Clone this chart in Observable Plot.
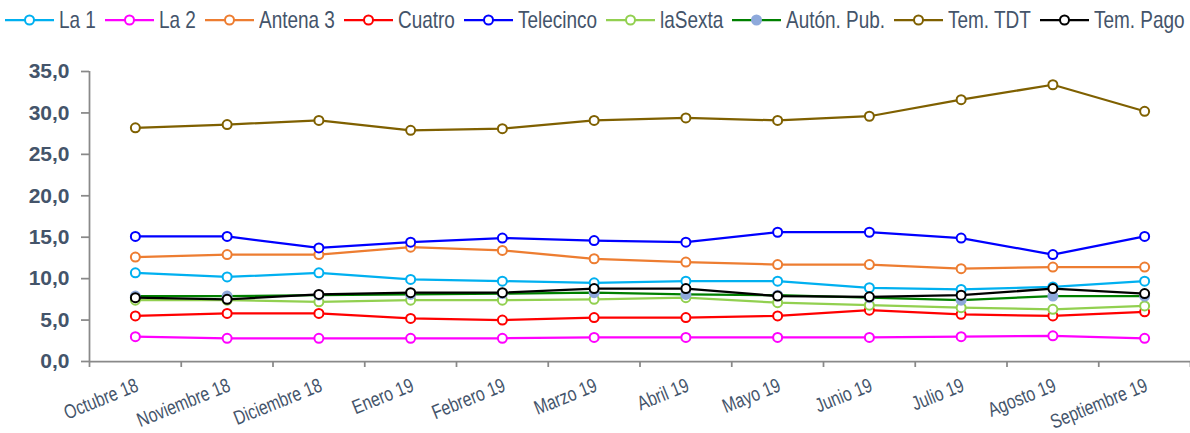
<!DOCTYPE html>
<html><head><meta charset="utf-8">
<script src="https://cdn.jsdelivr.net/npm/d3@7"></script>
<script src="https://cdn.jsdelivr.net/npm/@observablehq/plot@0.6"></script>
<style>
body{margin:0;background:#fff;width:1190px;height:433px;overflow:hidden;font-family:"Liberation Sans",sans-serif;}
#legend{height:40px;display:flex;align-items:center;justify-content:center;gap:9px;color:#44546A;font-size:24px;white-space:nowrap;}
.item{display:flex;align-items:center;gap:5px;white-space:nowrap;}
.item span{display:inline-block;transform:scaleX(0.79);transform-origin:left center;}
#chart svg{display:block;}
</style></head><body>
<div id="legend"></div><div id="chart"></div>
<script>
const months = ["Octubre 18","Noviembre 18","Diciembre 18","Enero 19","Febrero 19","Marzo 19","Abril 19","Mayo 19","Junio 19","Julio 19","Agosto 19","Septiembre 19"];
const seriesNames = ["La 1","La 2","Antena 3","Cuatro","Telecinco","laSexta","Autón. Pub.","Tem. TDT","Tem. Pago"];
const lineColors = ["#00B0F0","#FF00FF","#ED7D31","#FF0000","#0000FF","#92D050","#008000","#7F6000","#000000"];
const markerFills = ["#ffffff","#ffffff","#ffffff","#ffffff","#ffffff","#ffffff","#8EA9DB","#ffffff","#ffffff"];
const markerStrokes = ["#00B0F0","#FF00FF","#ED7D31","#FF0000","#0000FF","#92D050","#8EA9DB","#7F6000","#000000"];
const la1 = [10.7,10.2,10.7,9.9,9.7,9.5,9.7,9.7,8.9,8.7,9.0,9.7];
const la2 = [3.0,2.8,2.8,2.8,2.8,2.9,2.9,2.9,2.9,3.0,3.1,2.8];
const antena3 = [12.6,12.9,12.9,13.8,13.4,12.4,12.0,11.7,11.7,11.2,11.4,11.4];
const cuatro = [5.5,5.8,5.8,5.2,5.0,5.3,5.3,5.5,6.2,5.7,5.5,6.0];
const telecinco = [15.1,15.1,13.7,14.4,14.9,14.6,14.4,15.6,15.6,14.9,12.9,15.1];
const laSexta = [7.4,7.4,7.2,7.4,7.4,7.5,7.7,7.1,6.8,6.5,6.3,6.7];
const autonPub = [7.9,7.9,8.0,8.1,8.2,8.3,8.1,8.0,7.7,7.4,7.9,7.9];
const temTDT = [28.2,28.6,29.1,27.9,28.1,29.1,29.4,29.1,29.6,31.6,33.4,30.2];
const temPago = [7.7,7.5,8.1,8.3,8.3,8.8,8.8,7.9,7.8,8.0,8.8,8.2];
const yTicks = [0,5,10,15,20,25,30,35];
const seriesValues = [la1,la2,antena3,cuatro,telecinco,laSexta,autonPub,temTDT,temPago];

const textColor = "#44546A";
const axisColor = "#898989";
const squeeze = 0.79;

// Legend
const legend = document.getElementById("legend");
seriesNames.forEach((name, i) => {
  const item = document.createElement("div");
  item.className = "item";
  item.innerHTML = `<svg width="49" height="20"><line x1="0" x2="49" y1="10" y2="10" stroke="${lineColors[i]}" stroke-width="2.25"/><circle cx="24.5" cy="10" r="4.5" fill="${markerFills[i]}" stroke="${markerStrokes[i]}" stroke-width="2"/></svg><span>${name}</span>`;
  legend.appendChild(item);
});
legend.querySelectorAll(".item span").forEach(sp => {
  const w = sp.getBoundingClientRect().width / squeeze;
  sp.style.marginRight = (-(1 - squeeze) * w) + "px";
});

const rows = [];
seriesValues.forEach((vals, s) => vals.forEach((v, i) => rows.push({series: seriesNames[s], s, i, month: months[i], value: v})));

const marks = [];
seriesNames.forEach((name, s) => {
  const data = rows.filter(d => d.s === s);
  marks.push(Plot.line(data, {x: "i", y: "value", stroke: lineColors[s], strokeWidth: 2.25}));
  marks.push(Plot.dot(data, {x: "i", y: "value", r: 4.5, fill: markerFills[s], stroke: markerStrokes[s], strokeWidth: 2}));
});

const boundaries = d3.range(-0.5, months.length, 1);

const chart = Plot.plot({
  width: 1190,
  height: 393,
  marginLeft: 89,
  marginRight: 0,
  marginTop: 31,
  marginBottom: 72,
  style: {fontFamily: '"Liberation Sans",sans-serif', color: textColor, background: "#fff"},
  x: {type: "linear", domain: [-0.5, months.length - 0.5], axis: null},
  y: {domain: [0, 35], axis: null},
  marks: [
    Plot.axisY({ticks: yTicks, label: null, tickSize: 8, tickPadding: 12, stroke: axisColor, strokeWidth: 1.75, tickFormat: d => d.toFixed(1).replace(".", ","), fontSize: 21, fontWeight: "bold", fill: textColor}),
    Plot.ruleX([-0.5], {y1: 0, y2: 35, stroke: axisColor, strokeWidth: 1.75}),
    Plot.ruleY([0], {stroke: axisColor, strokeWidth: 1.75}),
    Plot.axisX({ticks: boundaries, label: null, tickSize: 6, tickFormat: () => "", stroke: axisColor, strokeWidth: 1.75}),
    Plot.text(months, {x: (d, i) => i, y: 0, text: d => d, rotate: -22, textAnchor: "end", dy: 23, dx: 2, fontSize: 20, fill: textColor}),
    ...marks
  ]
});
// condense the month labels like the reference's narrow font
chart.querySelectorAll("g[aria-label='text'] text").forEach(t => {
  const tr = t.getAttribute("transform") || "";
  t.setAttribute("transform", tr + ` scale(${squeeze},1)`);
});
document.getElementById("chart").appendChild(chart);
</script>
</body></html>
